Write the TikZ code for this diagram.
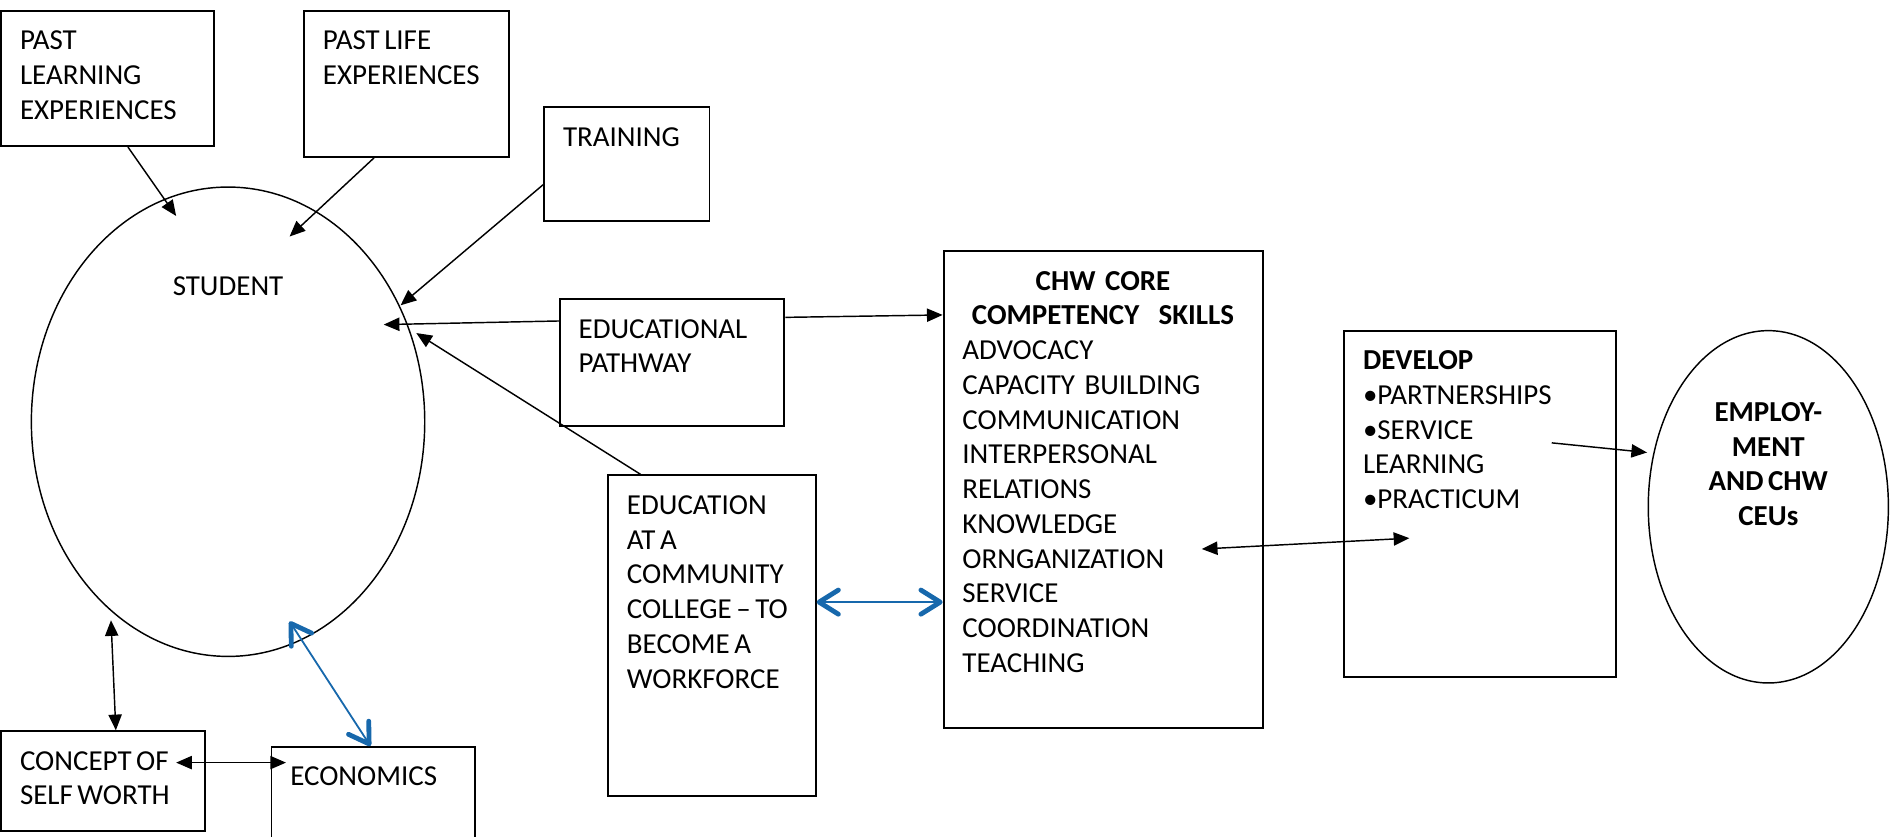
\documentclass[tikz,border=0pt]{standalone}
\usepackage{fontspec}
\setmainfont{Carlito}[WordSpace=0.7]
\usepackage{tikz}
\usetikzlibrary{shapes.geometric,arrows.meta}
\definecolor{chwblue}{RGB}{23,104,172}
\newcommand{\diagfont}{\fontsize{12pt}{14.4pt}\selectfont}

\tikzset{
  box/.style={draw, line width=0.8pt, fill=white, inner sep=0pt},
  boxtext/.style={anchor=north west, align=left, inner xsep=8pt, inner ysep=8.5pt, font=\diagfont},
  blob/.style={ellipse, draw, line width=0.6pt, fill=white, inner sep=0pt},
  blobtext/.style={anchor=north, align=center, inner sep=0pt, font=\diagfont},
  arr/.style={-{Triangle[length=6.5pt,width=5.5pt]}, line width=0.6pt},
  dblarr/.style={{Triangle[length=6.5pt,width=5.5pt]}-{Triangle[length=6.5pt,width=5.5pt]}, line width=0.6pt},
  bluearr/.style={{Straight Barb[length=8pt,width=10pt,line width=2pt,round]}-{Straight Barb[length=8pt,width=10pt,line width=2pt,round]}, draw=chwblue, line width=0.75pt},
}

\begin{document}
\begin{tikzpicture}[x=0.5pt, y=-0.5pt]

\useasboundingbox (0,0) rectangle (1568,693);
\clip (0,0) rectangle (1568,693);

% Ellipses
\node[blob, minimum width=163pt, minimum height=194.5pt,
  label={[blobtext, yshift=-37.2pt]north:STUDENT}] (student) at (189,349.5) {};
\node[blob, minimum width=99.5pt, minimum height=146pt,
  label={[blobtext, font=\diagfont\bfseries, yshift=-29.8pt]north:{EMPLOY-\\MENT\\AND CHW\\CEUs}}] (employ) at (1465.5,420) {};

% Boxes round the student
\node[box, minimum width=88pt, minimum height=56pt,
  label={[boxtext]north west:{PAST\\LEARNING\\EXPERIENCES}}] (plearn) at (89,65) {};
\node[box, minimum width=85pt, minimum height=60.5pt,
  label={[boxtext]north west:{PAST LIFE\\EXPERIENCES}}] (plife) at (337,69.5) {};
\node[box, minimum width=68.5pt, minimum height=47pt,
  label={[boxtext]north west:TRAINING}] (train) at (519.5,136) {};
\node[box, minimum width=93pt, minimum height=52.5pt,
  label={[boxtext]north west:{EDUCATIONAL\\PATHWAY}}] (edupath) at (557,300.5) {};
\node[box, minimum width=86pt, minimum height=133pt,
  label={[boxtext]north west:{EDUCATION\\AT A\\COMMUNITY\\COLLEGE – TO\\BECOME A\\WORKFORCE}}] (educc) at (590,527) {};
\node[box, minimum width=84.5pt, minimum height=41.5pt,
  label={[boxtext]north west:{CONCEPT OF\\SELF WORTH}}] (concept) at (85.5,647.5) {};
\node[box, minimum width=84.5pt, minimum height=43pt,
  label={[boxtext]north west:ECONOMICS}] (econ) at (309.5,662) {};

% Skills and development
\node[box, minimum width=132.5pt, minimum height=197.5pt,
  label={[boxtext, text width=116.5pt]north west:{%
    \makebox[\hsize]{\textbf{CHW CORE}}\\
    \makebox[\hsize]{\textbf{COMPETENCY~ SKILLS}}\\
    ADVOCACY\\CAPACITY BUILDING\\COMMUNICATION\\INTERPERSONAL\\RELATIONS\\
    KNOWLEDGE\\ORNGANIZATION\\SERVICE\\COORDINATION\\TEACHING}}] (chw) at (914.5,405.5) {};
\node[box, minimum width=112.5pt, minimum height=143.5pt,
  label={[boxtext]north west:{\textbf{DEVELOP}\\•PARTNERSHIPS\\•SERVICE\\LEARNING\\•PRACTICUM}}] (develop) at (1226.5,417.5) {};

% Arrow ends
\coordinate (s1) at (146,179);
\coordinate (s2) at (240,196);
\coordinate (s3) at (332,253);
\coordinate (s4) at (318,269);
\coordinate (s5) at (345,276);
\coordinate (s6) at (92,514);
\coordinate (s7) at (240,515);
\coordinate (c1) at (996,455);
\coordinate (d1) at (1168,446);
\coordinate (d2) at (1286,367);
\coordinate (e1) at (1365,375);
\coordinate (k1) at (146,632);
\coordinate (k2) at (237,632);

% Arrows into the student
\draw[arr] ([xshift=8.5pt]plearn.south) -- (s1);
\draw[arr] ([xshift=-13.5pt]plife.south) -- (s2);
\draw[arr] ([yshift=-8.5pt]train.west) -- (s3);
\draw[arr] ([yshift=17.25pt]edupath.west) -- (s4);
\draw[arr] ([xshift=-29.5pt]educc.north) -- (s5);
\draw[arr] ([yshift=18.75pt]edupath.east) -- ([yshift=72.25pt]chw.west);

% Two-way arrows
\draw[dblarr] (s6) -- ([xshift=5.25pt]concept.north);
\draw[dblarr] (k1) -- (k2);
\draw[dblarr] (c1) -- (d1);
\draw[arr] (d2) -- (e1);
\draw[bluearr] (s7) -- ([xshift=-1.25pt]econ.north);
\draw[bluearr] ([yshift=14pt]educc.east) coordinate (b1) -- (b1 -| chw.west);

\end{tikzpicture}
\end{document}
